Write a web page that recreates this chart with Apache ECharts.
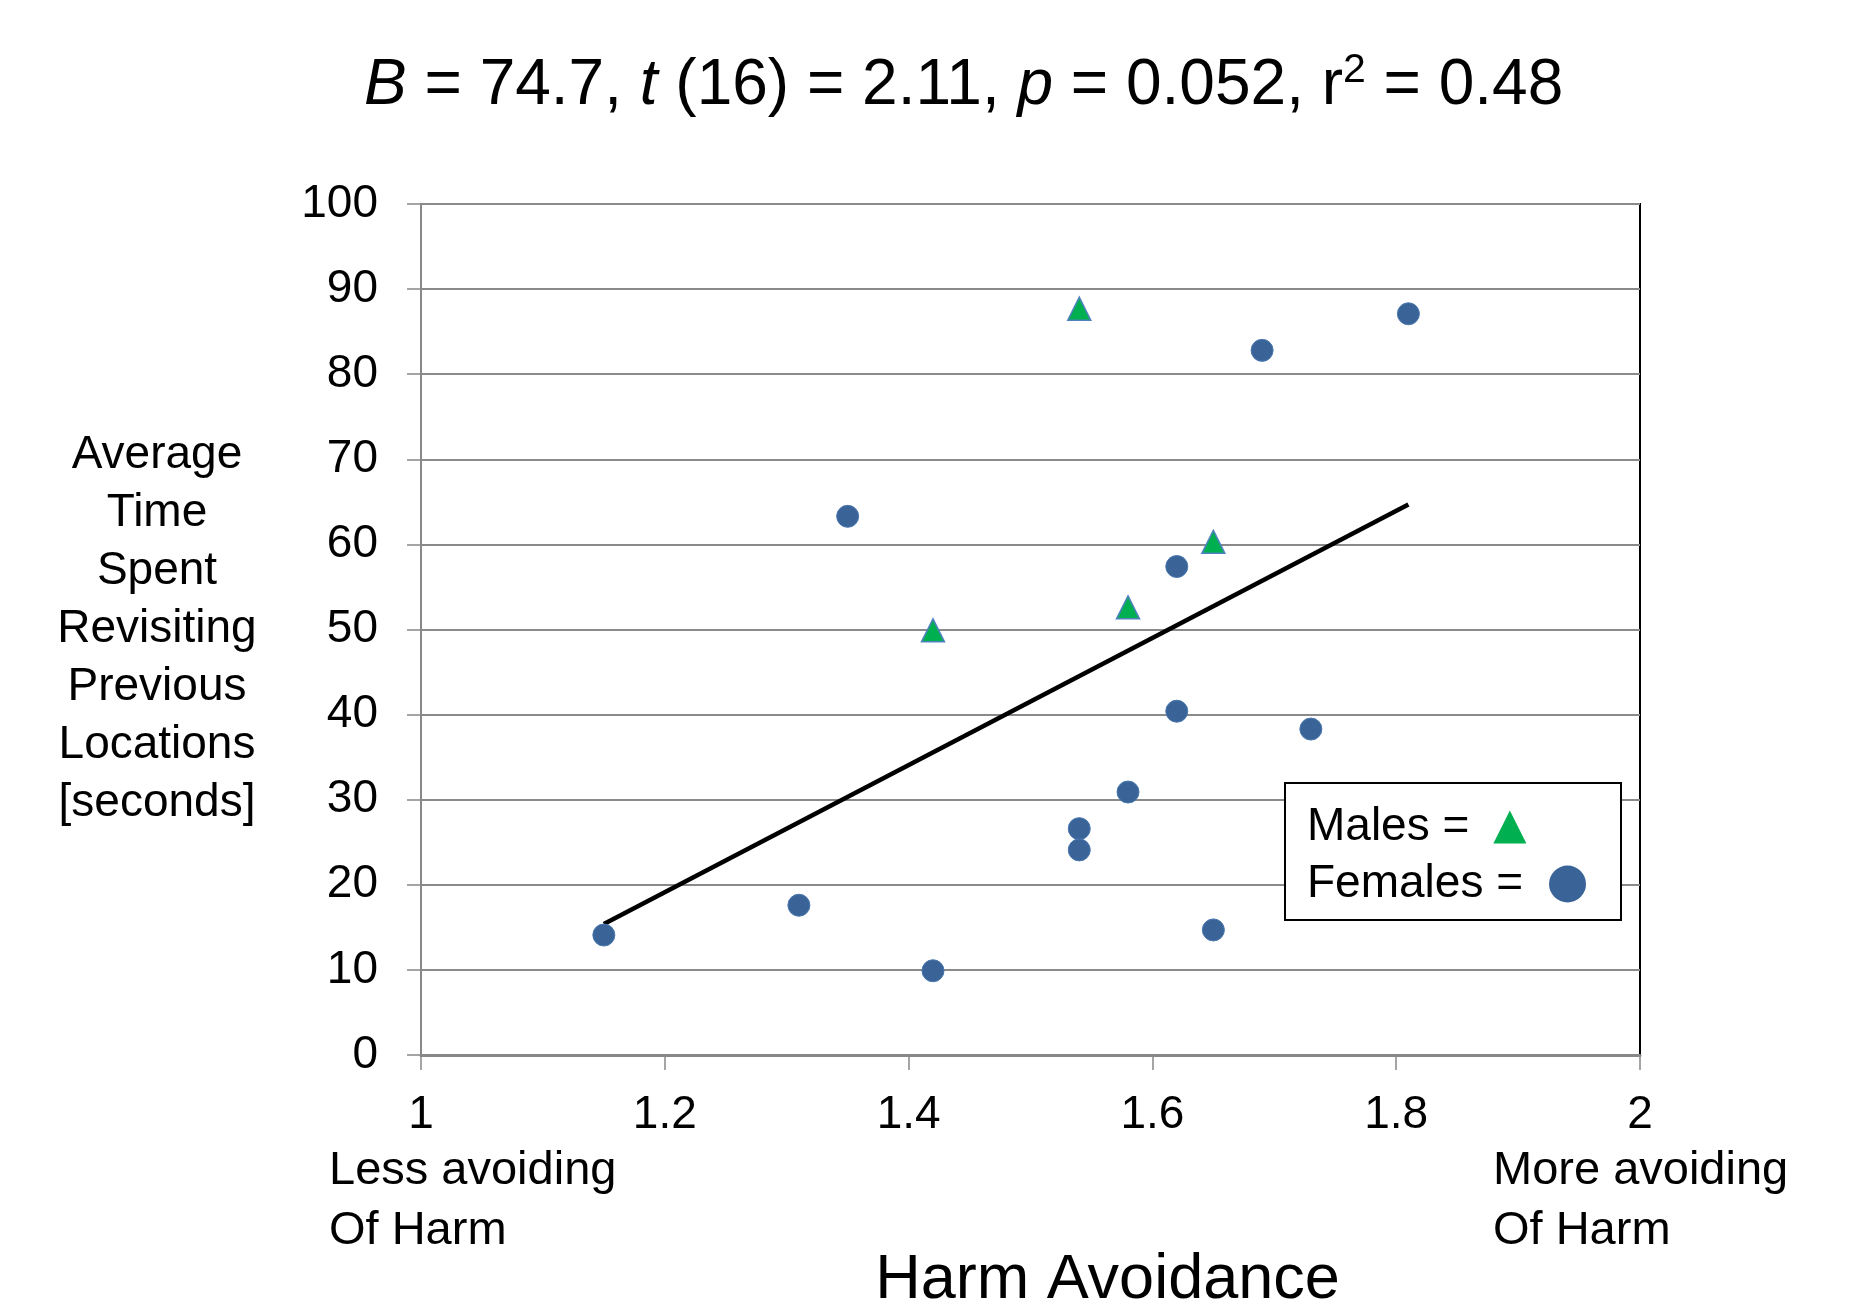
<!DOCTYPE html>
<html>
<head>
<meta charset="utf-8">
<script src="https://cdn.jsdelivr.net/npm/echarts@6/dist/echarts.min.js"></script>
<style>
html,body{margin:0;padding:0;background:#fff;}
#chart{width:1856px;height:1305px;}
</style>
</head>
<body>
<div id="chart"></div>
<script>
// Data
const femaleX = [1.15, 1.31, 1.35, 1.42, 1.54, 1.54, 1.58, 1.62, 1.62, 1.65, 1.69, 1.73, 1.81];
const femaleY = [14.1, 17.6, 63.3, 9.9, 26.6, 24.1, 30.9, 57.4, 40.4, 14.7, 82.8, 38.3, 87.1];
const maleX = [1.42, 1.54, 1.58, 1.65];
const maleY = [49.9, 87.7, 52.6, 60.3];
const fitX = [1.15, 1.81];
const fitY = [15.4, 64.7];
const seriesNames = ['Males', 'Females'];
const xTitle = 'Harm Avoidance';
const yTitleLines = ['Average', 'Time', 'Spent', 'Revisiting', 'Previous', 'Locations', '[seconds]'];
const lowNote = ['Less avoiding', 'Of Harm'];
const highNote = ['More avoiding', 'Of Harm'];

const FONT = "'Liberation Sans', Arial, sans-serif";
const zip = (xs, ys) => xs.map((x, i) => [x, ys[i]]);
const legendText = {fontFamily: FONT, fontSize: 46, color: '#000', lineHeight: 46};

const chart = echarts.init(document.getElementById('chart'), null, {renderer: 'canvas'});
chart.setOption({
  backgroundColor: '#fff',
  animation: false,
  textStyle: {fontFamily: FONT},
  title: {
    text: '{i|B} = 74.7, {i|t} (16) = 2.11, {i|p} = 0.052, r{sup|2} = 0.48',
    left: 359,
    top: 46,
    textStyle: {
      fontFamily: FONT, fontSize: 64, fontWeight: 'normal', color: '#000', lineHeight: 70,
      rich: {
        i: {fontFamily: FONT, fontSize: 64, fontStyle: 'italic', color: '#000', lineHeight: 70},
        sup: {fontFamily: FONT, fontSize: 41, color: '#000', padding: [0, 0, 30, 0]}
      }
    }
  },
  grid: {
    left: 421, right: 216, top: 204, bottom: 250,
    outerBoundsMode: 'none', containLabel: false,
    show: true, borderColor: '#000', borderWidth: 2, backgroundColor: '#fff'
  },
  legend: [
    {
      left: 1307, top: 804, padding: 0, align: 'right',
      data: [{name: seriesNames[0], icon: 'path://M5,0 L10,10 L0,10 Z'}],
      formatter: n => n + ' =',
      itemWidth: 71, itemHeight: 33,
      itemStyle: {borderWidth: 0},
      textStyle: legendText, z: 5
    },
    {
      left: 1307, top: 861, padding: 0, align: 'right',
      data: [{name: seriesNames[1], icon: 'circle'}],
      formatter: n => n + ' =',
      itemWidth: 79, itemHeight: 37,
      itemStyle: {borderWidth: 0},
      textStyle: legendText, z: 5
    }
  ],
  xAxis: {
    type: 'value', min: 1, max: 2, interval: 0.2,
    name: xTitle, nameLocation: 'middle', nameGap: 226,
    nameTextStyle: {fontFamily: FONT, fontSize: 63, color: '#000', verticalAlign: 'middle', align: 'center', padding: [0, 0, 0, 154], lineHeight: 63},
    axisLine: {show: true, onZero: false, lineStyle: {color: '#888', width: 3}},
    axisTick: {show: true, inside: false, length: 15, lineStyle: {color: '#888', width: 1.5}},
    axisLabel: {fontFamily: FONT, fontSize: 46, color: '#000', margin: 37, lineHeight: 46,
      formatter: v => String(Math.round(v * 10) / 10)},
    splitLine: {show: false}
  },
  yAxis: {
    type: 'value', min: 0, max: 100, interval: 10,
    name: yTitleLines.join('\n'), nameLocation: 'middle', nameRotate: 0, nameGap: 264,
    nameTextStyle: {fontFamily: FONT, fontSize: 46, color: '#000', align: 'center', verticalAlign: 'middle', lineHeight: 58, padding: [10, 0, 0, 0]},
    axisLine: {show: true, lineStyle: {color: '#888', width: 2}},
    axisTick: {show: true, inside: false, length: 14, lineStyle: {color: '#888', width: 1.5}},
    axisLabel: {fontFamily: FONT, fontSize: 46, color: '#000', margin: 43},
    splitLine: {show: true, lineStyle: {color: '#8a8a8a', width: 2}}
  },
  graphic: [
    {type: 'rect', z: 4, shape: {x: 1285, y: 783, width: 336, height: 137},
      style: {fill: '#fff', stroke: '#000', lineWidth: 2}},
    {type: 'text', left: 329, top: 1141, style: {text: lowNote.join('\n'), font: '47px ' + FONT, fill: '#000', lineHeight: 60}},
    {type: 'text', left: 1493, top: 1141, style: {text: highNote.join('\n'), font: '47px ' + FONT, fill: '#000', lineHeight: 60}}
  ],
  series: [
    {
      name: 'fit', type: 'line', data: zip(fitX, fitY), symbol: 'none', z: 1,
      lineStyle: {color: '#000', width: 4.5}, silent: true
    },
    {
      name: seriesNames[0], type: 'scatter', data: zip(maleX, maleY), symbol: 'triangle', symbolSize: 23, z: 3,
      itemStyle: {color: '#00B050', borderColor: '#4F81BD', borderWidth: 1.5, opacity: 1}
    },
    {
      name: seriesNames[1], type: 'scatter', data: zip(femaleX, femaleY), symbol: 'circle', symbolSize: 22, z: 3,
      itemStyle: {color: '#3A6497', borderColor: '#4A78B0', borderWidth: 1, opacity: 1}
    }
  ]
});
</script>
</body>
</html>
